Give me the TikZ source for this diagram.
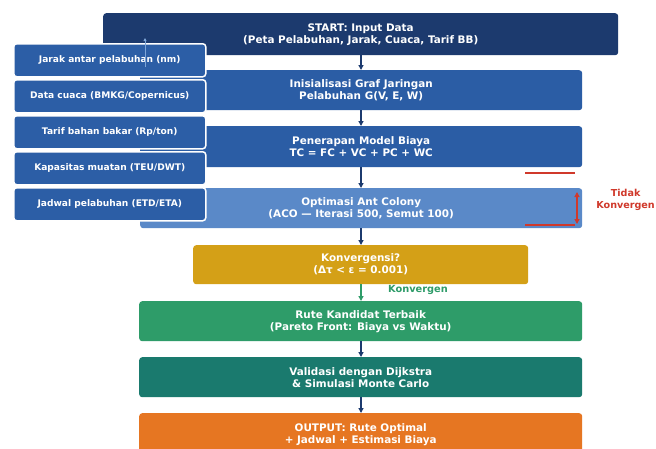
\documentclass[tikz,border=0pt]{standalone}
\usepackage{fontspec}
\setmainfont{DejaVu Sans}
\usetikzlibrary{arrows.meta}
\definecolor{cstart}{HTML}{1C3A6E}
\definecolor{cblue}{HTML}{2B5DA5}
\definecolor{clight}{HTML}{5A89C8}
\definecolor{cgold}{HTML}{D4A017}
\definecolor{cgreen}{HTML}{2E9C69}
\definecolor{cteal}{HTML}{1A7A6E}
\definecolor{corange}{HTML}{E67622}
\definecolor{cside}{HTML}{2C5EA6}
\definecolor{cred}{HTML}{D0392B}
\definecolor{carrowlt}{HTML}{7FA6D8}
\tikzset{
  mainbox/.style={rounded corners=3pt, text=white, font=\bfseries\fontsize{10.4}{12}\selectfont, align=center, inner sep=0pt, anchor=north west},
  sidebox/.style={rounded corners=3pt, fill=cside, draw=white, line width=1.5pt, text=white, font=\bfseries\fontsize{9.1}{10}\selectfont, align=center, inner sep=0pt, minimum width=192pt, minimum height=33pt, anchor=north west},
  flow/.style={draw=cstart, line width=1.5pt, -{Triangle[length=5pt,width=5pt]}},
  redline/.style={draw=cred, line width=1.2pt},
}
\begin{document}
\begin{tikzpicture}[x=1pt,y=-1pt]
\useasboundingbox (0,0) rectangle (656,448);
\fill[white] (0,0) rectangle (656,448);
% main flow
\node[mainbox, fill=cstart, minimum width=515pt, minimum height=42pt] (start) at (103,13) {START: Input Data\\(Peta Pelabuhan, Jarak, Cuaca, Tarif BB)};
\node[mainbox, fill=cblue, minimum width=442pt, minimum height=40pt] (init) at (140,70) {Inisialisasi Graf Jaringan\\Pelabuhan G(V, E, W)};
\node[mainbox, fill=cblue, minimum width=442pt, minimum height=41pt] (cost) at (140,126) {Penerapan Model Biaya\\TC = FC + VC + PC + WC};
\node[mainbox, fill=clight, minimum width=442pt, minimum height=40pt] (aco) at (140,188) {Optimasi Ant Colony\\(ACO — Iterasi 500, Semut 100)};
\node[mainbox, fill=cgold, minimum width=335pt, minimum height=39pt] (conv) at (193,245) {Konvergensi?\\(Δτ < ε = 0.001)};
\node[mainbox, fill=cgreen, minimum width=443pt, minimum height=40pt] (rute) at (139,301) {Rute Kandidat Terbaik\\(Pareto Front: Biaya vs Waktu)};
\node[mainbox, fill=cteal, minimum width=443pt, minimum height=40pt] (valid) at (139,357) {Validasi dengan Dijkstra\\\& Simulasi Monte Carlo};
\node[mainbox, fill=corange, minimum width=443pt, minimum height=42pt] (out) at (139,413) {OUTPUT: Rute Optimal\\+ Jadwal + Estimasi Biaya};
% arrows
\coordinate (s1) at (361,55);
\draw[flow] (s1) -- (s1 |- init.north);
\draw[flow] (361,110) -- (361,126);
\draw[flow] (361,167) -- (361,188);
\draw[flow] (361,228) -- (361,245);
\draw[flow] (361,341) -- (361,357);
\draw[flow] (361,397) -- (361,413);
\draw[draw=cgreen, line width=1.5pt, -{Triangle[length=5pt,width=5pt]}] (361,284) -- (361,301);
\node[text=cgreen, font=\bfseries\fontsize{9.8}{11}\selectfont] (klab) at (418,290) {Konvergen};
% loop marker
\coordinate (r1a) at (525,173); \coordinate (r1b) at (575,173);
\coordinate (r2a) at (525,225); \coordinate (r2b) at (575,225);
\draw[redline] (r1a) -- (r1b);
\draw[redline] (r2a) -- (r2b);
\coordinate (ra) at (577,192); \coordinate (rb) at (577,224);
\draw[draw=cred, line width=1.2pt, {Triangle[length=5pt,width=5pt]}-{Triangle[length=5pt,width=5pt]}] (ra) -- (rb);
\node[text=cred, font=\bfseries\fontsize{9.6}{11.5}\selectfont, align=center, anchor=east, inner sep=0pt] (tidak) at (655,200) {Tidak\\Konvergen};
% side boxes
\node[sidebox] (d1) at (13,43) {Jarak antar pelabuhan (nm)};
\node[sidebox] (d2) at (13,79) {Data cuaca (BMKG/Copernicus)};
\node[sidebox] (d3) at (13,115) {Tarif bahan bakar (Rp/ton)};
\node[sidebox] (d4) at (13,151) {Kapasitas muatan (TEU/DWT)};
\node[sidebox] (d5) at (13,187) {Jadwal pelabuhan (ETD/ETA)};
\coordinate (up1) at (145,67); \coordinate (up2) at (145,38);
\draw[draw=carrowlt, line width=1pt, -{Triangle[length=3pt,width=3pt]}] (up1) -- (up2);
\end{tikzpicture}
\end{document}
